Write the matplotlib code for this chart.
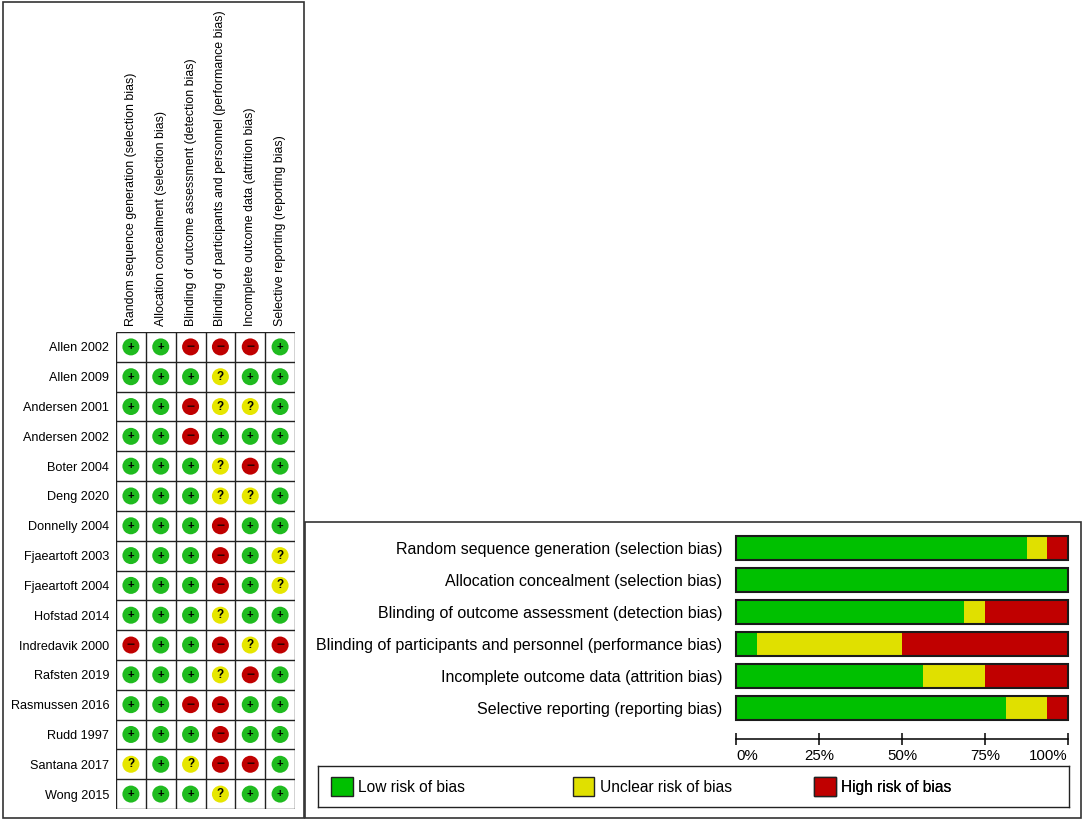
import numpy as np
import matplotlib
matplotlib.use('Agg')
import matplotlib.pyplot as plt
from matplotlib.patches import Rectangle, Patch

plt.rcParams['font.family'] = ['Liberation Sans', 'DejaVu Sans']

W, H = 1084, 821

studies = ['Allen 2002', 'Allen 2009', 'Andersen 2001', 'Andersen 2002', 'Boter 2004',
           'Deng 2020', 'Donnelly 2004', 'Fjaeartoft 2003', 'Fjaeartoft 2004', 'Hofstad 2014',
           'Indredavik 2000', 'Rafsten 2019', 'Rasmussen 2016', 'Rudd 1997', 'Santana 2017',
           'Wong 2015']

domains = ['Random sequence generation (selection bias)',
           'Allocation concealment (selection bias)',
           'Blinding of outcome assessment (detection bias)',
           'Blinding of participants and personnel (performance bias)',
           'Incomplete outcome data (attrition bias)',
           'Selective reporting (reporting bias)']

# one judgement per study, in the study order above ('+' low, '?' unclear, '-' high)
random_seq   = ['+', '+', '+', '+', '+', '+', '+', '+', '+', '+', '-', '+', '+', '+', '?', '+']
allocation   = ['+', '+', '+', '+', '+', '+', '+', '+', '+', '+', '+', '+', '+', '+', '+', '+']
blind_outc   = ['-', '+', '-', '-', '+', '+', '+', '+', '+', '+', '+', '+', '-', '+', '?', '+']
blind_part   = ['-', '?', '?', '+', '?', '?', '-', '-', '-', '?', '-', '?', '-', '-', '-', '?']
incomplete   = ['-', '+', '?', '+', '-', '?', '+', '+', '+', '+', '?', '-', '+', '+', '-', '+']
selective    = ['+', '+', '+', '+', '+', '+', '+', '?', '?', '+', '-', '+', '+', '+', '+', '+']
judgements = [random_seq, allocation, blind_outc, blind_part, incomplete, selective]

legend_labels = ['Low risk of bias', 'Unclear risk of bias', 'High risk of bias']
pct_ticks = [0, 25, 50, 75, 100]

BAR_COL = {'+': '#00c000', '?': '#e0e000', '-': '#c00000'}
DOT_COL = {'+': '#1fbb1f', '?': '#e6e600', '-': '#c00000'}
SYMBOL = {'+': ('+', 'black', 8), '?': ('?', 'black', 8.5), '-': ('\u2212', '#300000', 10)}
LINE = '#222222'


def box(l, t, r, b):
    """pixel box (left, top, right, bottom) -> figure fraction [x, y, w, h]"""
    return [l / W, 1 - b / H, (r - l) / W, (b - t) / H]


fig = plt.figure(figsize=(W / 100, H / 100), dpi=100)

# panel frames
for l, t, r, b in [(3, 2, 304, 818), (305, 522, 1081, 818)]:
    x, y, w, h = box(l, t, r, b)
    fig.patches.append(Rectangle((x, y), w, h, transform=fig.transFigure, fill=False,
                                 edgecolor='#333333', lw=1.2))

# ---- risk of bias summary grid ----
ax = fig.add_axes(box(116, 332, 295, 809))
ax.set_xlim(0, len(domains))
ax.set_ylim(len(studies), 0)
ax.vlines(np.arange(len(domains) + 1), 0, len(studies), color=LINE, lw=1)
ax.hlines(np.arange(len(studies) + 1), 0, len(domains), color=LINE, lw=1)
for i, col in enumerate(judgements):
    for j, v in enumerate(col):
        ax.scatter(i + 0.5, j + 0.5, s=150, color=DOT_COL[v], edgecolor='none', zorder=3)
        ch, c, fs = SYMBOL[v]
        ax.text(i + 0.5, j + 0.5, ch, ha='center', va='center', color=c, fontsize=fs,
                fontweight='bold', zorder=4)
ax.xaxis.tick_top()
ax.set_xticks(np.arange(len(domains)) + 0.5, domains, rotation=90, fontsize=8.9)
ax.set_yticks(np.arange(len(studies)) + 0.5, studies, fontsize=9.1)
ax.tick_params(length=0)
ax.tick_params(axis='x', pad=4)
ax.tick_params(axis='y', pad=5)
for s in ax.spines.values():
    s.set_visible(False)

# ---- risk of bias graph ----
bx = fig.add_axes(box(736, 532, 1068, 724))
n = len(studies)
low = np.array([c.count('+') for c in judgements]) / n * 100
unc = np.array([c.count('?') for c in judgements]) / n * 100
high = np.array([c.count('-') for c in judgements]) / n * 100
y = np.arange(len(domains))
bh = 0.76
bx.barh(y, low, height=bh, color=BAR_COL['+'], edgecolor='none')
bx.barh(y, unc, left=low, height=bh, color=BAR_COL['?'], edgecolor='none')
bx.barh(y, high, left=low + unc, height=bh, color=BAR_COL['-'], edgecolor='none')
bx.barh(y, low + unc + high, height=bh, fill=False, edgecolor='#1a1a1a', lw=1.5, clip_on=False)
bx.set_xlim(0, 100)
bx.set_ylim(len(domains) - 0.5, -0.5)
bx.set_yticks(y, domains, fontsize=11.5)
bx.tick_params(axis='y', length=0, pad=10)
for k in ['top', 'left', 'right']:
    bx.spines[k].set_visible(False)
bx.spines['bottom'].set_position(('outward', 11))
bx.spines['bottom'].set_linewidth(1.1)
bx.set_xticks(pct_ticks, [f'{p}%' for p in pct_ticks])
bx.tick_params(axis='x', direction='inout', length=8, width=1.1, pad=3, labelsize=10.8)
xl = bx.get_xticklabels()
xl[0].set_ha('left')
xl[-1].set_ha('right')

# ---- legend ----
la = fig.add_axes(box(318, 766, 1069, 807))
la.set_xticks([]); la.set_yticks([])
for s in la.spines.values():
    s.set_linewidth(1.0)
    s.set_color('#222222')
pad = 13 / (1069 - 318)
for k, (lab, code) in enumerate(zip(legend_labels, ['+', '?', '-'])):
    h = Patch(facecolor=BAR_COL[code], edgecolor='#222222', lw=1)
    leg = la.legend(handles=[h], labels=[lab], loc='center left',
                    bbox_to_anchor=(pad + k * (1 - 2 * pad) / 3, 0.5), frameon=False,
                    borderpad=0, borderaxespad=0, handlelength=1.4, handleheight=1.45,
                    handletextpad=0.33, fontsize=11.2)
    la.add_artist(leg)

fig.savefig('out.png', dpi=100)
